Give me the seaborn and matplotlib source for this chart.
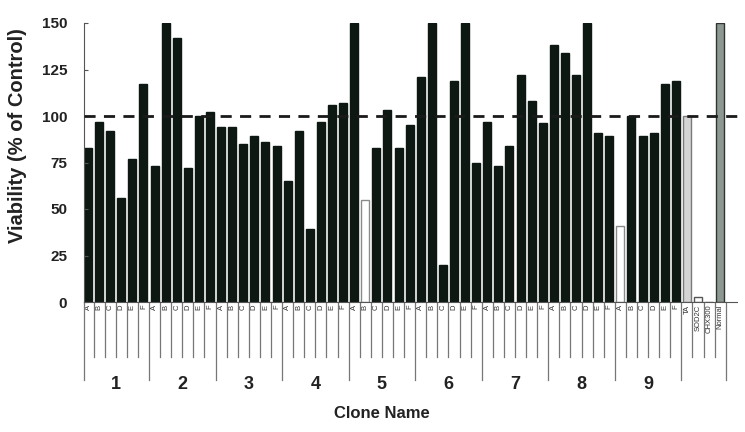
import numpy as np
import pandas as pd
import matplotlib
matplotlib.use("Agg")
import matplotlib.pyplot as plt
import seaborn as sns

# === Дані ===
clone_names = ["1", "2", "3", "4", "5", "6", "7", "8", "9"]
letters = ["A", "B", "C", "D", "E", "F"]
clone_1 = [83, 97, 92, 56, 77, 117]
clone_2 = [73, 150, 142, 72, 100, 102]
clone_3 = [94, 94, 85, 89, 86, 84]
clone_4 = [65, 92, 39, 97, 106, 107]
clone_5 = [150, 55, 83, 103, 83, 95]
clone_6 = [121, 150, 20, 119, 150, 75]
clone_7 = [97, 73, 84, 122, 108, 96]
clone_8 = [138, 134, 122, 150, 91, 89]
clone_9 = [41, 100, 89, 91, 117, 119]
control_labels = ["TA", "SOD2C", "CHX300", "Normal"]
control_values = [100, 2.5, 0, 150]
open_bars = ["5B", "9A"]

clones = [clone_1, clone_2, clone_3, clone_4, clone_5, clone_6, clone_7, clone_8, clone_9]

rows = []
for name, vals in zip(clone_names, clones):
    for let, v in zip(letters, vals):
        kind = "open" if name + let in open_bars else "clone"
        rows.append({"id": name + let, "label": let, "value": v, "kind": kind})
for lab, v in zip(control_labels, control_values):
    rows.append({"id": lab, "label": lab, "value": v, "kind": lab})
df = pd.DataFrame(rows)

face = {"clone": "#0e1812", "open": "#ffffff", "TA": "#d4d4d4",
        "SOD2C": "#ffffff", "CHX300": "#ffffff", "Normal": "#8e9893"}
edge = {"clone": "#0e1812", "open": "#8a8a8a", "TA": "#7a7a7a",
        "SOD2C": "#555555", "CHX300": "#555555", "Normal": "#2e3530"}

# === Побудова графіка ===
fig = plt.figure(figsize=(7.45, 4.32), dpi=100)
ax = fig.add_axes([84 / 745, 130 / 432, 653 / 745, 279 / 432])

palette = {r.id: face[r.kind] for r in df.itertuples()}
sns.barplot(data=df, x="id", y="value", hue="id", palette=palette,
            legend=False, width=0.72, saturation=1, ax=ax)

for patch, k in zip(ax.patches, df["kind"]):
    patch.set_edgecolor(edge[k])
    patch.set_linewidth(1.0)

ax.set_xlim(-0.36, 58.52)
ax.set_ylim(0, 150)
ax.axhline(100, xmin=0, xmax=1.012, color="#1a1a1a", lw=2.0,
           ls=(0, (4, 3)), clip_on=False, zorder=5)

for s in ["top", "right"]:
    ax.spines[s].set_visible(False)
ax.spines["left"].set_color("#555555")
ax.spines["bottom"].set_color("#555555")

ax.set_yticks([0, 25, 50, 75, 100, 125, 150])
ax.tick_params(axis="y", direction="in", length=3, color="#555555",
               labelsize=11, labelcolor="#222222", pad=12)
for t in ax.get_yticklabels():
    t.set_fontweight("bold")

ax.set_xticks(range(len(df)))
ax.set_xticklabels(df["label"], rotation=90, fontsize=5.5, color="#333333")
ax.tick_params(axis="x", length=0, pad=2)

# лінії під віссю
tr = ax.get_xaxis_transform()
n_clone = len(clone_names) * len(letters)
for i in range(len(df) - 1):
    pos = i + 0.5
    long = (i + 1) % 6 == 0 and i < n_clone
    ax.plot([pos, pos], [0, -0.28 if long else -0.197], transform=tr,
            color="#777777", lw=0.9, clip_on=False)
ax.plot([-0.36, -0.36], [0, -0.28], transform=tr, color="#777777",
        lw=0.9, clip_on=False)
ax.plot([57.5, 57.5], [0, -0.28], transform=tr, color="#777777",
        lw=0.9, clip_on=False)

for g, name in enumerate(clone_names):
    ax.text(g * 6 + 2.5, -0.295, name, transform=tr, ha="center", va="center",
            fontsize=13, fontweight="bold", color="#222222")

ax.set_xlabel("")
ax.set_ylabel("")
fig.text(382 / 745, 1 - 413 / 432, "Clone Name", ha="center", va="center",
         fontsize=12, fontweight="bold", color="#222222")
fig.text(18 / 745, 1 - 136 / 432, "Viability (% of Control)", ha="center",
         va="center", rotation=90, fontsize=14.5, fontweight="bold",
         color="#222222")

plt.rcParams["font.family"] = ["Liberation Sans", "DejaVu Sans"]
for t in fig.findobj(matplotlib.text.Text):
    t.set_fontfamily(["Liberation Sans", "DejaVu Sans"])

fig.savefig("out.png", dpi=100)
